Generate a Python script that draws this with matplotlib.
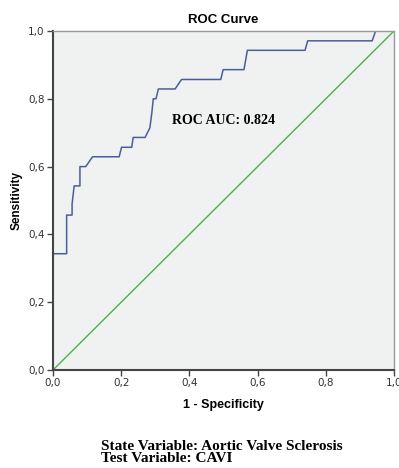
import matplotlib
matplotlib.use("Agg")
import matplotlib.pyplot as plt
from matplotlib.ticker import FuncFormatter

# ROC curve points (1 - specificity, sensitivity)
fpr = [0.0, 0.0, 0.040, 0.040, 0.056, 0.056, 0.062, 0.079, 0.079, 0.096, 0.116,
       0.194, 0.201, 0.231, 0.235, 0.270, 0.284, 0.290, 0.294, 0.302, 0.309,
       0.358, 0.377, 0.492, 0.499, 0.560, 0.570, 0.739, 0.747, 0.936, 0.946, 1.0]
tpr = [0.0, 0.343, 0.343, 0.457, 0.457, 0.490, 0.543, 0.543, 0.600, 0.600, 0.629,
       0.629, 0.657, 0.657, 0.686, 0.686, 0.714, 0.760, 0.800, 0.800, 0.829,
       0.829, 0.857, 0.857, 0.886, 0.886, 0.943, 0.943, 0.971, 0.971, 1.0, 1.0]
ref_x = [0.0, 1.0]
ref_y = [0.0, 1.0]
ticks = [0.0, 0.2, 0.4, 0.6, 0.8, 1.0]
auc_text = "ROC AUC: 0.824"
title = "ROC Curve"
xlabel = "1 - Specificity"
ylabel = "Sensitivity"
footer = ["State Variable: Aortic Valve Sclerosis", "Test Variable: CAVI"]

fig = plt.figure(figsize=(3.99, 4.68), dpi=100)
ax = fig.add_axes([53/399, 1-370/468, 341/399, 339/468])
ax.set_facecolor("#f0f1f1")

ax.plot(ref_x, ref_y, color="#4caf50", lw=1.0)
ax.plot(fpr, tpr, color="#4a5e9c", lw=1.1)

ax.set_xlim(0, 1)
ax.set_ylim(0, 1)
ax.set_xticks(ticks)
ax.set_yticks(ticks)
fmt = FuncFormatter(lambda v, p: f"{v:.1f}".replace(".", ","))
ax.xaxis.set_major_formatter(fmt)
ax.yaxis.set_major_formatter(fmt)
ax.tick_params(direction="out", length=4, width=1, color="#444444",
               labelsize=7.5, labelcolor="#333333", pad=2)
for s in ax.spines.values():
    s.set_color("#9a9a9a")
    s.set_linewidth(1)
ax.spines["left"].set_color("#444444")
ax.spines["left"].set_linewidth(1.5)
ax.spines["bottom"].set_color("#444444")
ax.spines["bottom"].set_linewidth(1.5)

ax.set_title(title, fontsize=9.5, fontweight="bold", family="Liberation Sans", pad=6)
ax.set_xlabel(xlabel, fontsize=9, fontweight="bold", family="Liberation Sans", labelpad=8)
ax.set_ylabel(ylabel, fontsize=8.5, fontweight="bold", family="Liberation Sans", labelpad=4)

ax.text(0.349, 0.735, auc_text, fontsize=10, fontweight="bold",
        family="Liberation Serif", ha="left", va="center", transform=ax.transData)

fig.text(101/399, 1-440/468, "\n".join(footer), fontsize=11, fontweight="bold",
         family="Liberation Serif", ha="left", va="top", linespacing=0.86)

fig.savefig("out.png", dpi=100)
